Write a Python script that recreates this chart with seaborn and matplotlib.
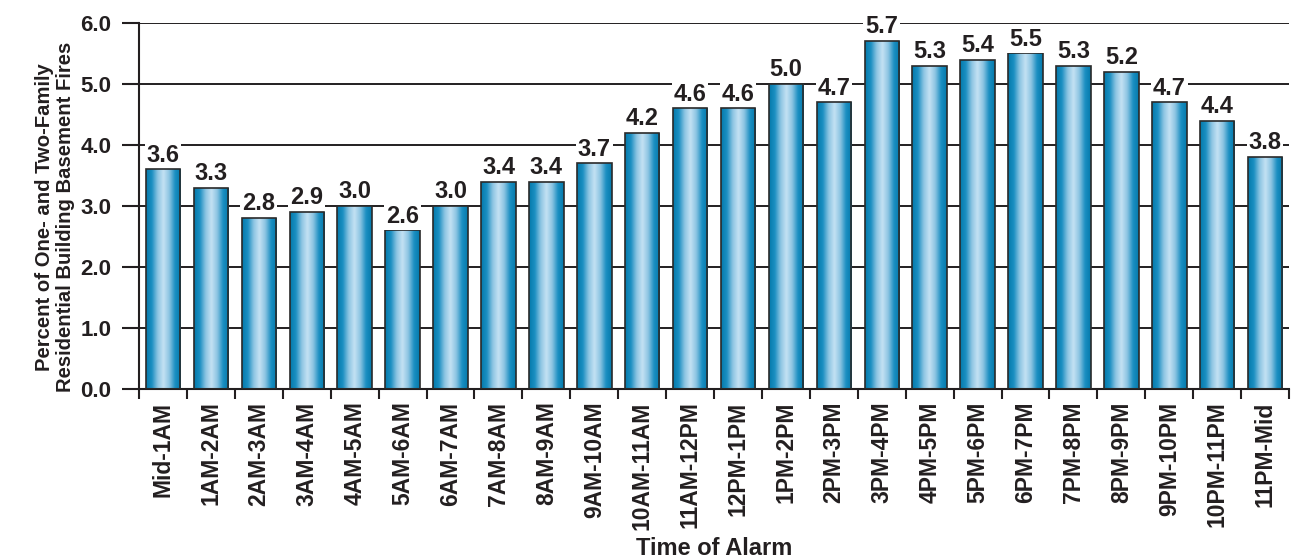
import numpy as np
import matplotlib
matplotlib.use("Agg")
import matplotlib.pyplot as plt
from matplotlib.colors import LinearSegmentedColormap
import seaborn as sns

time_slots = [
    "Mid-1AM", "1AM-2AM", "2AM-3AM", "3AM-4AM", "4AM-5AM", "5AM-6AM",
    "6AM-7AM", "7AM-8AM", "8AM-9AM", "9AM-10AM", "10AM-11AM", "11AM-12PM",
    "12PM-1PM", "1PM-2PM", "2PM-3PM", "3PM-4PM", "4PM-5PM", "5PM-6PM",
    "6PM-7PM", "7PM-8PM", "8PM-9PM", "9PM-10PM", "10PM-11PM", "11PM-Mid",
]
percent = [
    3.6, 3.3, 2.8, 2.9, 3.0, 2.6, 3.0, 3.4, 3.4, 3.7, 4.2, 4.6,
    4.6, 5.0, 4.7, 5.7, 5.3, 5.4, 5.5, 5.3, 5.2, 4.7, 4.4, 3.8,
]
y_ticks = [0.0, 1.0, 2.0, 3.0, 4.0, 5.0, 6.0]

sns.set_theme(style="white")
plt.rcParams["font.family"] = ["Liberation Sans", "DejaVu Sans"]
plt.rcParams["font.weight"] = "bold"
ink = "#231f20"

fig = plt.figure(figsize=(12.91, 5.59), dpi=100)
ax = fig.add_axes([0.1077, 0.3041, 0.8908, 0.6548])

sns.barplot(x=time_slots, y=percent, ax=ax, width=0.72,
            facecolor="none", edgecolor="#2a2a2a", linewidth=1.2, zorder=3)

# cylinder-like shading inside each bar
cyl = LinearSegmentedColormap.from_list(
    "cyl", ["#0479ab", "#1b8fc2", "#8cc4e2", "#c4e2f3", "#8cc4e2", "#1b8fc2", "#0479ab"])
grad = np.linspace(0, 1, 256).reshape(1, -1)
for bar in ax.patches:
    x0, w, h = bar.get_x(), bar.get_width(), bar.get_height()
    im = ax.imshow(grad, cmap=cyl, extent=[x0, x0 + w, 0, h],
                   aspect="auto", zorder=2, interpolation="bicubic")
    im.set_clip_path(bar)

ax.set_xlim(-0.5, len(time_slots) - 0.5)
ax.set_ylim(0, 6.0)

for i, v in enumerate(percent):
    ax.annotate(f"{v:.1f}", (i, v), xytext=(0, 2), textcoords="offset points",
                ha="center", va="bottom", fontsize=17, fontweight="bold",
                color=ink, zorder=4,
                bbox=dict(boxstyle="square,pad=0.08", fc="white", ec="none"))

ax.set_yticks(y_ticks)
ax.set_yticklabels([f"{t:.1f}" for t in y_ticks], fontsize=16, fontweight="bold",
                   color=ink)
ax.yaxis.grid(True, color=ink, linewidth=1.4, zorder=1)
ax.set_axisbelow(True)

ax.set_xticks(range(len(time_slots)))
ax.set_xticklabels(time_slots, rotation=90, fontsize=16.5, fontweight="bold",
                   color=ink)
ax.set_xticks(np.arange(-0.5, len(time_slots)), minor=True)
ax.tick_params(axis="x", which="major", length=0, pad=9)
ax.tick_params(axis="x", which="minor", length=7, width=1.5, color=ink,
               direction="out", bottom=True)
ax.tick_params(axis="y", length=12, width=1.5, color=ink, pad=8, left=True)

for side in ["top", "right"]:
    ax.spines[side].set_visible(False)
for side in ["left", "bottom"]:
    ax.spines[side].set_color(ink)
    ax.spines[side].set_linewidth(1.5)

ax.set_xlabel("Time of Alarm", fontsize=17, fontweight="bold", color=ink)
ax.xaxis.set_label_coords(0.5, -0.405)
ax.set_ylabel("Percent of One- and Two-Family\nResidential Building Basement Fires",
              fontsize=14.6, fontweight="bold", color=ink, linespacing=1.08)
ax.yaxis.set_label_coords(-0.056, 0.47)

fig.savefig("out.png", dpi=100)
